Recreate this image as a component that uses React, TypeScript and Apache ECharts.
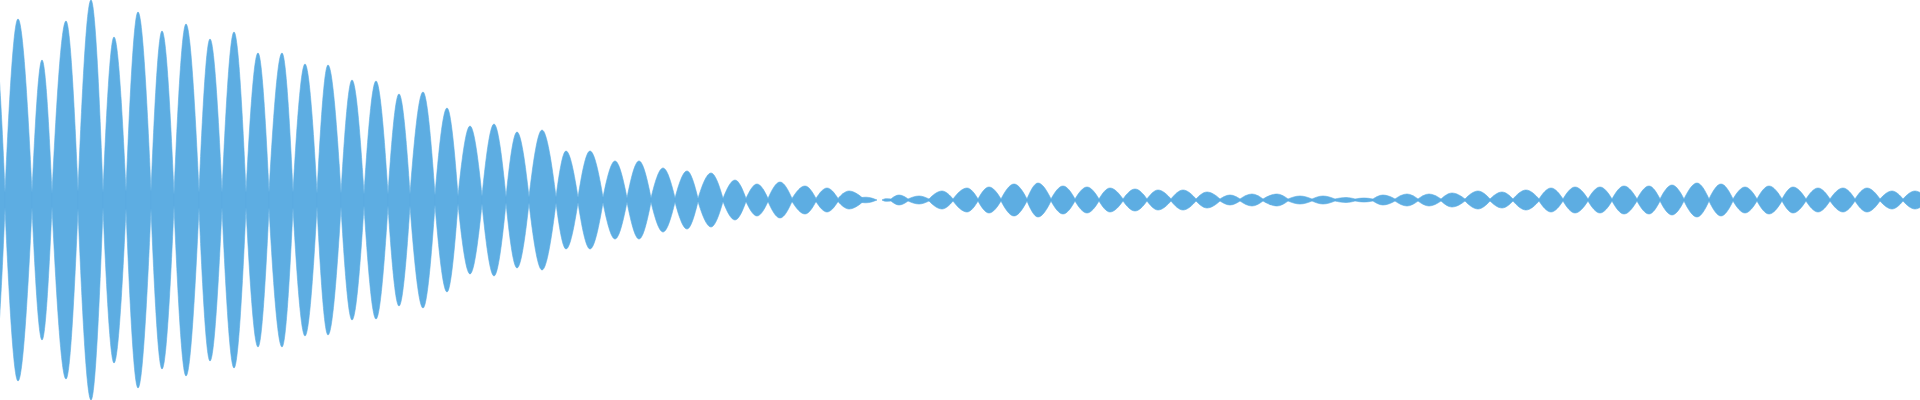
import React, { useEffect, useRef } from "react";
import * as echarts from "echarts";

// Envelope peaks (x position, half-amplitude)
const peakX = [
  -6, 18, 42, 66, 91, 114, 138, 162, 186, 210, 234, 258, 282, 305, 328, 352, 376, 399, 423, 447,
  470, 494, 517, 542, 566, 590, 615, 639, 663, 687, 711, 735, 757, 780, 805, 827, 849, 866, 886, 899, 919, 942,
  967, 989, 1014, 1038, 1063, 1087, 1110, 1135, 1158, 1183, 1207, 1230, 1252, 1277, 1300, 1323, 1346, 1364, 1383, 1407,
  1429, 1452, 1478, 1502, 1526, 1551, 1575, 1600, 1624, 1649, 1672, 1697, 1721, 1745, 1769, 1793, 1818, 1843, 1867, 1892,
  1915,
];
const peakAmp = [
  165, 181, 140, 179, 200, 163, 188, 169, 176, 161, 168, 147, 147, 136, 135, 120, 119, 106, 108, 92,
  74, 76, 68, 70, 49, 49, 39, 39, 32, 29, 27, 20, 16, 18, 14, 12, 9, 2.8, 1.3, 5, 4, 9,
  12, 13, 16, 17, 14, 13, 12, 11, 10, 10, 8, 5, 6, 6, 4, 4, 2.5, 2, 5, 6,
  6, 7, 9, 8, 10, 12, 13, 13, 14, 14, 15, 17, 16, 13, 14, 13, 12, 12, 12, 9,
  9,
];

// Envelope troughs (junctions between lobes)
const troughX = [
  -18, 5, 32, 52, 78, 103, 126, 151, 174, 199, 222, 246, 269, 293, 317, 341, 364, 388, 410, 435,
  458, 482, 506, 529, 556, 578, 603, 627, 651, 675, 698, 723, 746, 768, 792, 816, 838, 862, 877, 882, 891,
  908, 929, 953, 978, 1001, 1027, 1051, 1075, 1099, 1123, 1147, 1171, 1196, 1220, 1240, 1263, 1288, 1312, 1335, 1355,
  1373, 1395, 1418, 1441, 1465, 1490, 1513, 1539, 1563, 1588, 1612, 1637, 1660, 1684, 1709, 1733, 1757, 1782, 1806, 1830,
  1855, 1880, 1903, 1928,
];
const troughAmp = [
  8, 8, 8, 7, 9, 8, 9, 9, 6, 8, 8, 8, 8, 8, 7, 7, 6, 6, 6, 5,
  4, 4, 3, 3, 3, 2.5, 2.5, 2, 2, 2, 1.5, 1.5, 1.5, 1.5, 1.5, 1.5, 1.5, 2.5, 0, 0, 1,
  1, 1, 1, 1, 1, 1, 1, 1, 1, 1, 1, 1, 1, 1, 1, 1, 1, 1, 1, 1,
  1, 1, 1, 1, 1, 1, 1, 1, 1, 1, 1, 1, 1, 1, 1, 1, 1, 1, 1, 1,
  1, 1, 1, 1,
];

const COLOR = "#5DADE2";

// One lobe per pair of consecutive troughs that holds a peak:
// [x0, t0, xp, amp, x1, t1]
function buildLobes(): number[][] {
  const lobes: number[][] = [];
  for (let i = 0; i < troughX.length - 1; i++) {
    const x0 = troughX[i];
    const x1 = troughX[i + 1];
    const k = peakX.findIndex((p) => p > x0 && p < x1);
    if (k < 0) continue;
    lobes.push([x0, troughAmp[i], peakX[k], peakAmp[k], x1, troughAmp[i + 1]]);
  }
  return lobes;
}

export default function App() {
  const ref = useRef<HTMLDivElement>(null);
  useEffect(() => {
    if (!ref.current) return;
    const chart = echarts.init(ref.current, undefined, { renderer: "svg" });
    const lobes = buildLobes();

    const renderItem = (_params: any, api: any) => {
      const x0 = api.value(0), t0 = api.value(1), xp = api.value(2);
      const A = api.value(3), x1 = api.value(4), t1 = api.value(5);
      const c = (x: number, y: number) => {
        const p = api.coord([x, y]);
        return p[0].toFixed(2) + " " + p[1].toFixed(2);
      };
      // quarter-sine-like bezier for each half of the lobe
      const half = (xa: number, ta: number) => {
        const w = xp - xa;
        return {
          c1: [xa + 0.3 * w, ta + 0.5 * (A - ta)],
          c2: [xa + 0.66 * w, A],
        };
      };
      const L = half(x0, t0);
      const R = half(x1, t1);
      const d =
        "M " + c(x0, t0) +
        " C " + c(L.c1[0], L.c1[1]) + " " + c(L.c2[0], L.c2[1]) + " " + c(xp, A) +
        " C " + c(R.c2[0], R.c2[1]) + " " + c(R.c1[0], R.c1[1]) + " " + c(x1, t1) +
        " L " + c(x1, -t1) +
        " C " + c(R.c1[0], -R.c1[1]) + " " + c(R.c2[0], -R.c2[1]) + " " + c(xp, -A) +
        " C " + c(L.c2[0], -L.c2[1]) + " " + c(L.c1[0], -L.c1[1]) + " " + c(x0, -t0) +
        " Z";
      return {
        type: "path",
        shape: { pathData: d },
        style: { fill: COLOR, stroke: COLOR, lineWidth: 0.6 },
      };
    };

    chart.setOption({
      animation: false,
      backgroundColor: "#ffffff",
      grid: { left: 0, right: 0, top: 0, bottom: 0 },
      xAxis: { type: "value", min: 0, max: 1920, show: false },
      yAxis: { type: "value", min: -200, max: 200, show: false },
      series: [
        {
          type: "custom",
          clip: true,
          silent: true,
          renderItem,
          encode: { x: [0, 2, 4], y: [1, 3, 5] },
          data: lobes,
        },
      ],
    });
    return () => chart.dispose();
  }, []);
  return (
    <div
      ref={ref}
      style={{ position: "absolute", left: 0, top: 0, width: 1920, height: 400 }}
    />
  );
}
